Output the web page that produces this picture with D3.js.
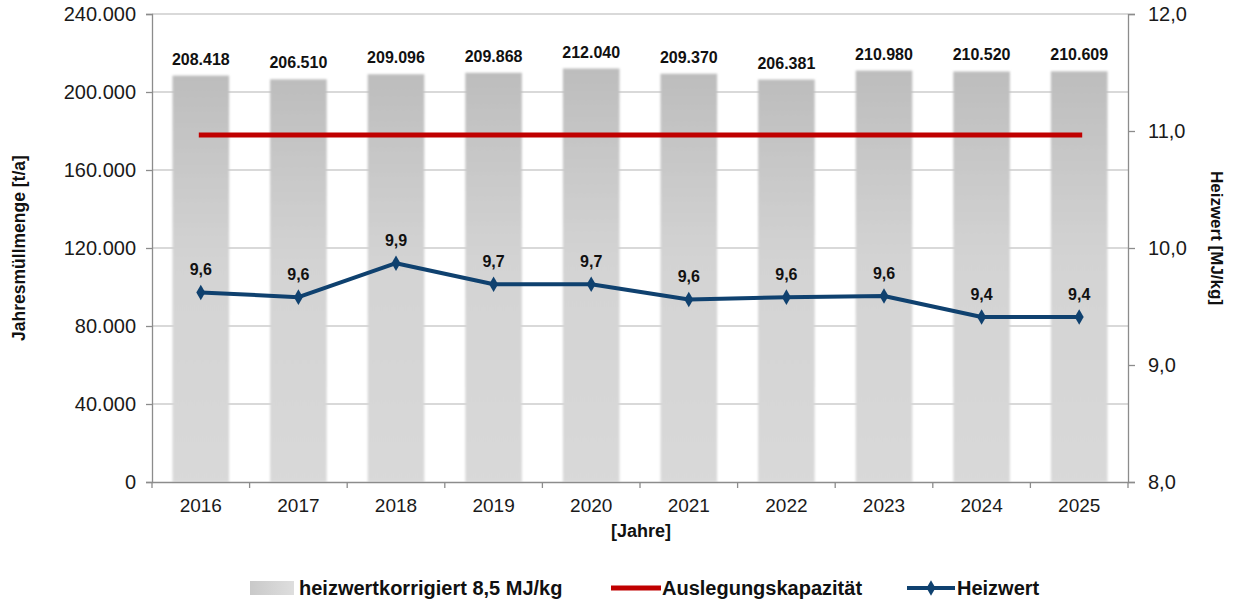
<!DOCTYPE html>
<html>
<head>
<meta charset="utf-8">
<script src="https://cdn.jsdelivr.net/npm/d3@7"></script>
<style>
  body { margin: 0; background: #fff; }
  svg { display: block; font-family: "Liberation Sans", Arial, sans-serif; }
  .tick text { fill: #1a1a1a; }
</style>
</head>
<body>
<div id="chart"></div>
<script>
// data
const years = ['2016', '2017', '2018', '2019', '2020', '2021', '2022', '2023', '2024', '2025'];
const amounts = [208418, 206510, 209096, 209868, 212040, 209370, 206381, 210980, 210520, 210609];
const heizwert = [9.62, 9.58, 9.87, 9.69, 9.69, 9.56, 9.58, 9.59, 9.41, 9.41];
const heizwertLabels = ['9,6', '9,6', '9,9', '9,7', '9,7', '9,6', '9,6', '9,6', '9,4', '9,4'];
const capacity = 178000;
const leftTicks = [0, 40000, 80000, 120000, 160000, 200000, 240000];
const rightTicks = [8, 9, 10, 11, 12];

const width = 1243, height = 604;
const margin = {top: 14, right: 115, bottom: 122, left: 152};
const innerW = width - margin.left - margin.right;
const innerH = height - margin.top - margin.bottom;

const svg = d3.select('#chart').append('svg')
  .attr('width', width)
  .attr('height', height);

const defs = svg.append('defs');
const barGrad = defs.append('linearGradient')
  .attr('id', 'barGrad')
  .attr('x1', 0).attr('y1', 0).attr('x2', 0).attr('y2', 1);
barGrad.append('stop').attr('offset', '0%').attr('stop-color', '#bdbdbd');
barGrad.append('stop').attr('offset', '45%').attr('stop-color', '#d3d3d3');
barGrad.append('stop').attr('offset', '100%').attr('stop-color', '#d9d9d9');

const legGrad = defs.append('linearGradient')
  .attr('id', 'legGrad')
  .attr('x1', 0).attr('y1', 0).attr('x2', 1).attr('y2', 0);
legGrad.append('stop').attr('offset', '0%').attr('stop-color', '#c9c9c9');
legGrad.append('stop').attr('offset', '100%').attr('stop-color', '#dedede');

defs.append('filter').attr('id', 'soft')
  .attr('x', '-10%').attr('y', '-5%').attr('width', '120%').attr('height', '110%')
  .append('feGaussianBlur').attr('stdDeviation', 0.9);

const g = svg.append('g')
  .attr('transform', `translate(${margin.left},${margin.top})`);

const x = d3.scaleBand()
  .domain(years)
  .range([0, innerW])
  .paddingInner(0.42)
  .paddingOuter(0.21);

const yLeft = d3.scaleLinear().domain([0, 240000]).range([innerH, 0]);
const yRight = d3.scaleLinear().domain([8, 12]).range([innerH, 0]);

const fmtT = d => d3.format(',')(d).replace(/,/g, '.');

// gridlines
g.append('g')
  .selectAll('line')
  .data(leftTicks.filter(d => d > 0))
  .join('line')
  .attr('x1', 0).attr('x2', innerW)
  .attr('y1', d => yLeft(d)).attr('y2', d => yLeft(d))
  .attr('stroke', '#b3b3b3')
  .attr('stroke-width', 1);

// bars
g.append('g')
  .selectAll('rect')
  .data(amounts)
  .join('rect')
  .attr('x', (d, i) => x(years[i]))
  .attr('y', d => yLeft(d))
  .attr('width', x.bandwidth())
  .attr('height', d => innerH - yLeft(d))
  .attr('fill', 'url(#barGrad)')
  .attr('filter', 'url(#soft)');

// bar labels
g.append('g')
  .selectAll('text')
  .data(amounts)
  .join('text')
  .attr('x', (d, i) => x(years[i]) + x.bandwidth() / 2)
  .attr('y', d => yLeft(d) - 11)
  .attr('text-anchor', 'middle')
  .style('font-size', '16px')
  .style('font-weight', 'bold')
  .attr('fill', '#111')
  .text(d => fmtT(d));

// axes
const leftAxis = g.append('g')
  .call(d3.axisLeft(yLeft).tickValues(leftTicks).tickFormat(fmtT).tickSize(6).tickPadding(10));
const rightAxis = g.append('g')
  .attr('transform', `translate(${innerW},0)`)
  .call(d3.axisRight(yRight).tickValues(rightTicks).tickFormat(d => d3.format('.1f')(d).replace('.', ',')).tickSize(7).tickPadding(13));
const xAxis = g.append('g')
  .attr('transform', `translate(0,${innerH})`)
  .call(d3.axisBottom(x).tickSize(0).tickPadding(17));

[leftAxis, rightAxis, xAxis].forEach(a => {
  a.select('.domain').attr('stroke', '#8c8c8c').attr('stroke-width', 1.3);
  a.selectAll('.tick line').attr('stroke', '#8c8c8c').attr('stroke-width', 1.3);
  a.selectAll('.tick text').style('font-size', '19px');
});
leftAxis.selectAll('.tick text').style('font-size', '20px');
rightAxis.selectAll('.tick text').style('font-size', '20px');

// x tick marks at band boundaries
const step = x.step();
xAxis.append('g')
  .selectAll('line')
  .data(d3.range(years.length + 1))
  .join('line')
  .attr('x1', i => i * step).attr('x2', i => i * step)
  .attr('y1', 0).attr('y2', 6)
  .attr('stroke', '#8c8c8c').attr('stroke-width', 1.3);

// capacity line
const cx0 = x(years[0]) + x.bandwidth() / 2;
const cx1 = x(years[years.length - 1]) + x.bandwidth() / 2;
g.append('line')
  .attr('x1', cx0 - 2).attr('x2', cx1 + 3)
  .attr('y1', yLeft(capacity)).attr('y2', yLeft(capacity))
  .attr('stroke', '#c00000')
  .attr('stroke-width', 5);

// heizwert line
const line = d3.line()
  .x((d, i) => x(years[i]) + x.bandwidth() / 2)
  .y(d => yRight(d));

g.append('path')
  .datum(heizwert)
  .attr('d', line)
  .attr('fill', 'none')
  .attr('stroke', '#0f416f')
  .attr('stroke-width', 4)
  .attr('stroke-linejoin', 'round');

const diamond = d3.symbol().type(d3.symbolDiamond).size(70);
g.append('g')
  .selectAll('path')
  .data(heizwert)
  .join('path')
  .attr('transform', (d, i) => `translate(${x(years[i]) + x.bandwidth() / 2},${yRight(d)})`)
  .attr('d', diamond)
  .attr('fill', '#0f416f');

g.append('g')
  .selectAll('text')
  .data(heizwert)
  .join('text')
  .attr('x', (d, i) => x(years[i]) + x.bandwidth() / 2)
  .attr('y', d => yRight(d) - 17)
  .attr('text-anchor', 'middle')
  .style('font-size', '16px')
  .style('font-weight', 'bold')
  .attr('fill', '#111')
  .text((d, i) => heizwertLabels[i]);

// axis titles
svg.append('text')
  .attr('transform', `translate(25,${margin.top + innerH / 2}) rotate(-90)`)
  .attr('text-anchor', 'middle')
  .style('font-size', '17.5px')
  .style('font-weight', 'bold')
  .attr('fill', '#111')
  .text('Jahresmüllmenge [t/a]');

svg.append('text')
  .attr('transform', `translate(1211,${margin.top + innerH / 2 - 10}) rotate(90)`)
  .attr('text-anchor', 'middle')
  .style('font-size', '17px')
  .style('font-weight', 'bold')
  .attr('fill', '#111')
  .text('Heizwert [MJ/kg]');

svg.append('text')
  .attr('x', 641)
  .attr('y', 537)
  .attr('text-anchor', 'middle')
  .style('font-size', '18px')
  .style('font-weight', 'bold')
  .attr('fill', '#111')
  .text('[Jahre]');

// legend
const legend = svg.append('g')
  .attr('transform', 'translate(0,588)')
  .style('font-family', '"Liberation Sans Narrow", "Arial Narrow", "Liberation Sans", sans-serif')
  .style('font-size', '20px')
  .style('font-weight', 'bold');

legend.append('rect')
  .attr('x', 250).attr('y', -7).attr('width', 44).attr('height', 14)
  .attr('fill', 'url(#legGrad)');
legend.append('text').attr('x', 299).attr('y', 7).attr('fill', '#111')
  .text('heizwertkorrigiert 8,5 MJ/kg');

legend.append('line')
  .attr('x1', 611).attr('x2', 661).attr('y1', 0).attr('y2', 0)
  .attr('stroke', '#c00000').attr('stroke-width', 5);
legend.append('text').attr('x', 662).attr('y', 7).attr('fill', '#111')
  .text('Auslegungskapazität');

legend.append('line')
  .attr('x1', 907).attr('x2', 955).attr('y1', 0).attr('y2', 0)
  .attr('stroke', '#0f416f').attr('stroke-width', 4);
legend.append('path')
  .attr('transform', 'translate(931,0)')
  .attr('d', diamond)
  .attr('fill', '#0f416f');
legend.append('text').attr('x', 957).attr('y', 7).attr('fill', '#111')
  .text('Heizwert');
</script>
</body>
</html>
